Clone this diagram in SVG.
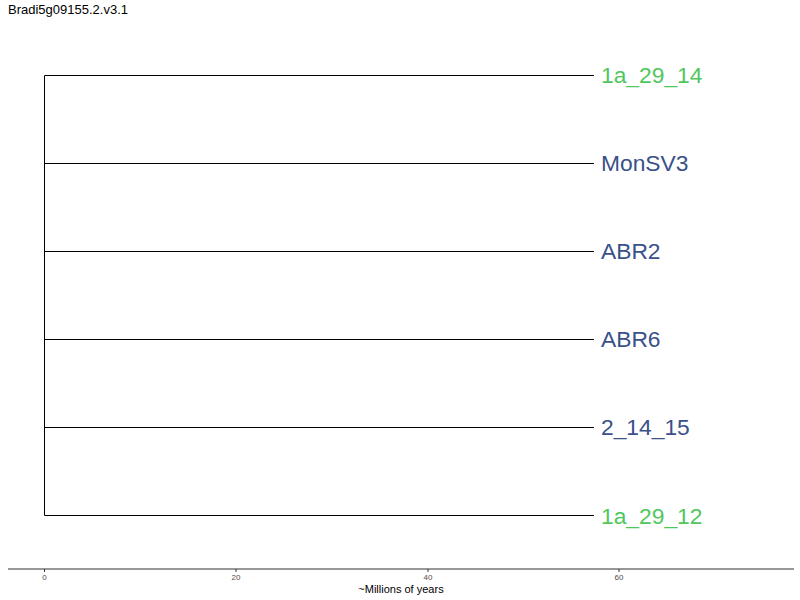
<svg xmlns="http://www.w3.org/2000/svg" width="800" height="600" viewBox="0 0 800 600">
<style>
.br{stroke:#000;stroke-width:1;fill:none}
.lab{font-family:"Liberation Sans",Arial,sans-serif;font-size:22.8px}
.g{fill:#4fc75c}
.b{fill:#39508a}
.tick{font-family:"Liberation Sans",Arial,sans-serif;font-size:8px;fill:#4d4d4d;text-anchor:middle}
</style>
<rect width="800" height="600" fill="#fff"/>
<text x="8" y="14" font-family="Liberation Sans, Arial, sans-serif" font-size="13" fill="#000">Bradi5g09155.2.v3.1</text>
<g id="connectors">
<path class="br" d="M44.5 75.5V515.5"/>
<path class="br" d="M44.5 75.5H594"/>
<path class="br" d="M44.5 163.5H594"/>
<path class="br" d="M44.5 251.5H594"/>
<path class="br" d="M44.5 339.5H594"/>
<path class="br" d="M44.5 427.5H594"/>
<path class="br" d="M44.5 515.5H594"/>
</g>
<g id="n1"><text class="lab g" x="601" y="83">1a_29_14</text></g>
<g id="n2"><text class="lab b" x="601" y="171">MonSV3</text></g>
<g id="n3"><text class="lab b" x="601" y="259">ABR2</text></g>
<g id="n4"><text class="lab b" x="601" y="347">ABR6</text></g>
<g id="n5"><text class="lab b" x="601" y="435">2_14_15</text></g>
<g id="n6"><text class="lab g" x="601" y="524">1a_29_12</text></g>
<g id="axis">
<path d="M8 569H794" stroke="#333" stroke-width="1.2"/>
<path d="M44.5 569v3M236 569v3M428 569v3M619 569v3" stroke="#333" stroke-width="1"/>
<text class="tick" x="44.5" y="580">0</text>
<text class="tick" x="236" y="580">20</text>
<text class="tick" x="428" y="580">40</text>
<text class="tick" x="619" y="580">60</text>
<text x="401" y="593" font-family="Liberation Sans, Arial, sans-serif" font-size="11" fill="#000" text-anchor="middle">~Millions of years</text>
</g>
</svg>
